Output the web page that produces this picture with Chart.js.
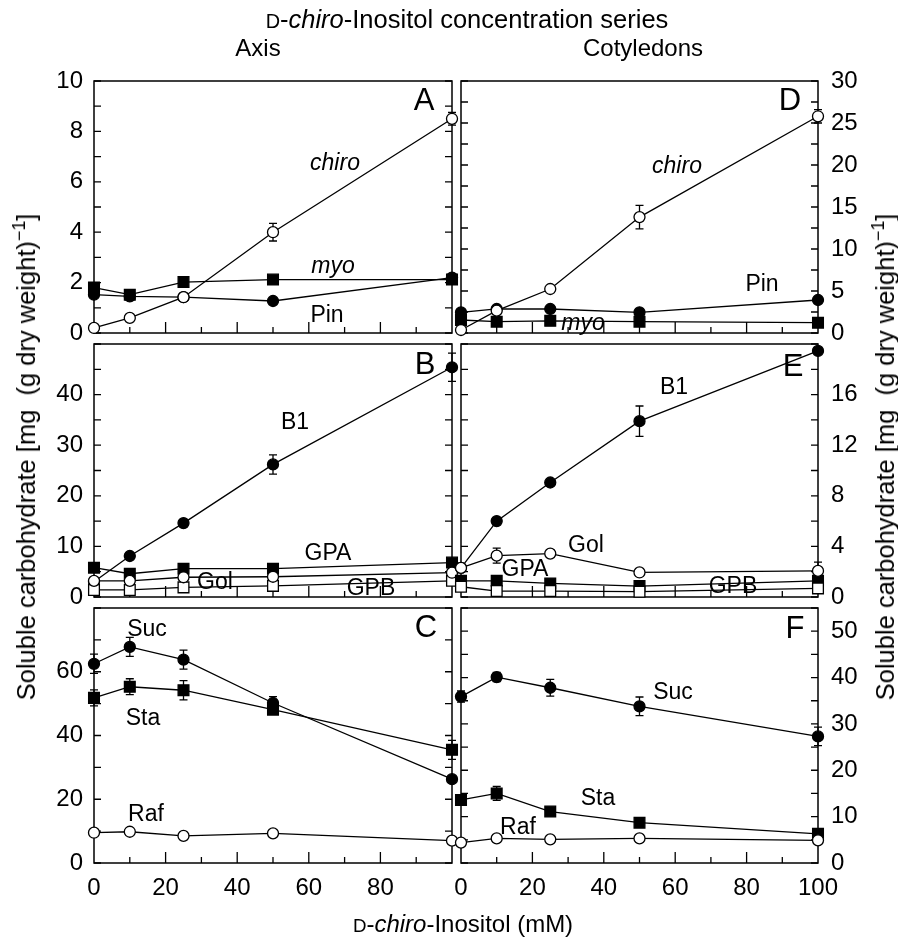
<!DOCTYPE html>
<html>
<head>
<meta charset="utf-8">
<script src="https://cdn.jsdelivr.net/npm/chart.js@4.4.1/dist/chart.umd.min.js"></script>
<style>
  body { margin: 0; background: #fff; }
  #page { position: relative; width: 898px; height: 937px; overflow: hidden;
          font-family: 'Liberation Sans', Arial, Helvetica, sans-serif; color: #000; }
  #page canvas { position: absolute; left: 0; top: 0; }
  .t { position: absolute; white-space: nowrap; transform: translate(-50%, -50%); line-height: 1; }
  .big { font-size: 24px; }
  .lab { font-size: 23px; }
  .letter { font-size: 31px; }
  .sc { font-size: 0.78em; }
  .vt { transform: translate(-50%, -50%) rotate(-90deg); font-size: 25.5px; }
</style>
</head>
<body>
<div id="page">
  <canvas id="panelA" width="898" height="937"></canvas>
  <canvas id="panelB" width="898" height="937"></canvas>
  <canvas id="panelC" width="898" height="937"></canvas>
  <canvas id="panelD" width="898" height="937"></canvas>
  <canvas id="panelE" width="898" height="937"></canvas>
  <canvas id="panelF" width="898" height="937"></canvas>

  <!-- titles -->
  <div class="t big" style="left:467px;top:20px;font-size:25.5px"><span class="sc">D</span>-<i>chiro</i>-Inositol concentration series</div>
  <div class="t big" style="left:258px;top:48px">Axis</div>
  <div class="t big" style="left:643px;top:48px">Cotyledons</div>
  <div class="t big" style="left:463px;top:924px"><span class="sc">D</span>-<i>chiro</i>-Inositol (mM)</div>
  <div class="t vt" style="left:25px;top:457px">Soluble carbohydrate [mg&nbsp; (g dry weight)<sup style="font-size:0.7em">&minus;1</sup>]</div>
  <div class="t vt" style="left:884px;top:457px">Soluble carbohydrate [mg&nbsp; (g dry weight)<sup style="font-size:0.7em">&minus;1</sup>]</div>

  <!-- panel A -->
  <div class="t letter" style="left:424px;top:99px">A</div>
  <div class="t lab" style="left:335px;top:162px"><i>chiro</i></div>
  <div class="t lab" style="left:333px;top:265px"><i>myo</i></div>
  <div class="t lab" style="left:327px;top:314px">Pin</div>
  <!-- panel B -->
  <div class="t letter" style="left:425px;top:363px">B</div>
  <div class="t lab" style="left:295px;top:421px">B1</div>
  <div class="t lab" style="left:328px;top:552px">GPA</div>
  <div class="t lab" style="left:215px;top:581px">Gol</div>
  <div class="t lab" style="left:371px;top:587px">GPB</div>
  <!-- panel C -->
  <div class="t letter" style="left:426px;top:626px">C</div>
  <div class="t lab" style="left:147px;top:628px">Suc</div>
  <div class="t lab" style="left:143px;top:717px">Sta</div>
  <div class="t lab" style="left:146px;top:813px">Raf</div>
  <!-- panel D -->
  <div class="t letter" style="left:790px;top:99px">D</div>
  <div class="t lab" style="left:677px;top:165px"><i>chiro</i></div>
  <div class="t lab" style="left:762px;top:283px">Pin</div>
  <div class="t lab" style="left:583px;top:322px"><i>myo</i></div>
  <!-- panel E -->
  <div class="t letter" style="left:793px;top:365px">E</div>
  <div class="t lab" style="left:674px;top:386px">B1</div>
  <div class="t lab" style="left:586px;top:544px">Gol</div>
  <div class="t lab" style="left:525px;top:568px">GPA</div>
  <div class="t lab" style="left:733px;top:585px">GPB</div>
  <!-- panel F -->
  <div class="t letter" style="left:795px;top:627px">F</div>
  <div class="t lab" style="left:673px;top:691px">Suc</div>
  <div class="t lab" style="left:598px;top:797px">Sta</div>
  <div class="t lab" style="left:518px;top:826px">Raf</div>
</div>

<script>
// x values: D-chiro-inositol concentration (mM)
const conc = [0, 10, 25, 50, 100];

// A – axis, cyclitols
const axisChiro = [0.2, 0.6, 1.42, 4.0, 8.5];
const axisChiroErr = [0, 0, 0, 0.35, 0.25];
const axisMyo = [1.8, 1.52, 2.02, 2.12, 2.12];
const axisPin = [1.52, 1.45, 1.42, 1.27, 2.2];

// B – axis, galactosyl cyclitols
const axisB1 = [3.0, 8.1, 14.6, 26.2, 45.4];
const axisB1Err = [0, 0, 0, 1.9, 2.8];
const axisGPA = [5.8, 4.6, 5.6, 5.6, 6.8];
const axisGol = [3.2, 3.2, 3.9, 4.0, 4.8];
const axisGPB = [1.4, 1.4, 1.9, 2.2, 3.2];

// C – axis, sucrose & RFO
const axisSuc = [62.5, 67.8, 63.8, 50.2, 26.3];
const axisSucErr = [3, 3, 3, 2, 0];
const axisSta = [51.8, 55.3, 54.2, 48.1, 35.5];
const axisStaErr = [2.5, 2.5, 3, 1.5, 3];
const axisRaf = [9.5, 9.8, 8.5, 9.3, 7.0];

// D – cotyledons, cyclitols
const cotChiro = [0.36, 2.66, 5.24, 13.8, 25.8];
const cotChiroErr = [0, 0, 0, 1.4, 0.8];
const cotPin = [2.46, 2.86, 2.86, 2.46, 3.93];
const cotMyo = [1.55, 1.35, 1.45, 1.35, 1.23];

// E – cotyledons, galactosyl cyclitols
const cotB1 = [2.3, 6.0, 9.05, 13.9, 19.45];
const cotB1Err = [0, 0, 0, 1.2, 0];
const cotGol = [2.3, 3.27, 3.43, 1.94, 2.06];
const cotGolErr = [0, 0.6, 0.3, 0, 0.7];
const cotGPA = [1.28, 1.28, 1.07, 0.86, 1.28];
const cotGPB = [0.81, 0.47, 0.47, 0.42, 0.68];

// F – cotyledons, sucrose & RFO
const cotSuc = [35.9, 40.1, 37.8, 33.8, 27.3];
const cotSucErr = [1.2, 1, 1.8, 2, 2];
const cotSta = [13.6, 15.0, 11.1, 8.7, 6.3];
const cotStaErr = [0, 1.5, 0, 0, 0];
const cotRaf = [4.4, 5.3, 5.1, 5.3, 4.9];

Chart.defaults.font.family = "'Liberation Sans', Arial, Helvetica, sans-serif";
Chart.defaults.color = '#000';

// frame, inward ticks and error bars
const frameTicks = {
    id: 'frameTicks',
    beforeDatasetsDraw(chart) {
        const { ctx, chartArea: a, scales } = chart;
        ctx.save();
        ctx.strokeStyle = '#000';
        ctx.lineWidth = 1.5;
        ctx.strokeRect(a.left, a.top, a.right - a.left, a.bottom - a.top);

        ctx.lineWidth = 1.3;
        ctx.beginPath();
        scales.y.ticks.forEach(t => {
            const py = scales.y.getPixelForValue(t.value);
            ctx.moveTo(a.left, py); ctx.lineTo(a.left + 7, py);
            ctx.moveTo(a.right, py); ctx.lineTo(a.right - 7, py);
        });
        scales.x.ticks.forEach(t => {
            if (t.value === 0 || t.value === 100) return;
            const px = scales.x.getPixelForValue(t.value);
            const len = t.value % 20 === 0 ? 11 : 6;
            ctx.moveTo(px, a.bottom); ctx.lineTo(px, a.bottom - len);
        });
        ctx.stroke();

        // error bars
        ctx.beginPath();
        chart.data.datasets.forEach((ds, i) => {
            if (!ds.errors) return;
            const meta = chart.getDatasetMeta(i);
            ds.errors.forEach((e, j) => {
                if (!e) return;
                const px = meta.data[j].x;
                const v = ds.data[j].y;
                const y1 = scales.y.getPixelForValue(v + e);
                const y2 = scales.y.getPixelForValue(v - e);
                ctx.moveTo(px, y1); ctx.lineTo(px, y2);
                ctx.moveTo(px - 4, y1); ctx.lineTo(px + 4, y1);
                ctx.moveTo(px - 4, y2); ctx.lineTo(px + 4, y2);
            });
        });
        ctx.stroke();
        ctx.restore();
    }
};

function series(values, marker, errors) {
    const open = marker === 'openCircle' || marker === 'openSquare';
    const square = marker === 'square' || marker === 'openSquare';
    return {
        data: conc.map((c, i) => ({ x: c, y: values[i] })),
        errors: errors || null,
        borderColor: '#000',
        borderWidth: 1.3,
        pointStyle: square ? 'rect' : 'circle',
        pointRadius: square ? 7.6 : 5.5,
        pointBackgroundColor: open ? '#fff' : '#000',
        pointBorderColor: '#000',
        pointBorderWidth: 1.3,
        tension: 0,
        clip: false
    };
}

// side: 'left' | 'right'; top/bottom: chart area in page pixels
function makePanel(id, side, top, bottom, yMax, yStep, labelStep, labelMax, datasets, xLabels) {
    const left = side === 'left';
    new Chart(document.getElementById(id), {
        type: 'line',
        data: { datasets },
        options: {
            responsive: false,
            animation: false,
            events: [],
            layout: {
                padding: {
                    left: left ? 0 : 461,
                    right: left ? 898 - 452 : 0,
                    top: top,
                    bottom: xLabels ? 0 : 937 - bottom
                }
            },
            plugins: { legend: { display: false }, tooltip: { enabled: false } },
            scales: {
                x: {
                    type: 'linear',
                    min: 0,
                    max: 100,
                    grid: { display: false, drawTicks: false },
                    border: { display: false },
                    ticks: {
                        display: xLabels,
                        stepSize: 10,
                        autoSkip: false,
                        maxRotation: 0,
                        padding: 11,
                        font: { size: 24 },
                        callback: v => (v % 20 === 0 && (v < 100 || !left)) ? v : ''
                    },
                    afterFit: s => { s.height = xLabels ? 937 - bottom : 0; }
                },
                y: {
                    position: side,
                    min: 0,
                    max: yMax,
                    grid: { display: false, drawTicks: false },
                    border: { display: false },
                    ticks: {
                        stepSize: yStep,
                        autoSkip: false,
                        padding: left ? 11 : 13,
                        font: { size: 24 },
                        callback: v => (Math.abs(v % labelStep) < 1e-6 && v <= labelMax) ? v : ''
                    },
                    afterFit: s => { s.width = left ? 94 : 898 - 818; }
                }
            }
        },
        plugins: [frameTicks]
    });
}

makePanel('panelA', 'left', 81, 333, 10, 1, 2, 10, [
    series(axisChiro, 'openCircle', axisChiroErr),
    series(axisPin, 'circle'),
    series(axisMyo, 'square')
], false);

makePanel('panelB', 'left', 344, 597, 50, 5, 10, 40, [
    series(axisGol, 'openCircle'),
    series(axisGPB, 'openSquare'),
    series(axisB1, 'circle', axisB1Err),
    series(axisGPA, 'square')
], false);

makePanel('panelC', 'left', 608, 863, 80, 10, 20, 60, [
    series(axisRaf, 'openCircle'),
    series(axisSuc, 'circle', axisSucErr),
    series(axisSta, 'square', axisStaErr)
], true);

makePanel('panelD', 'right', 81, 333, 30, 2.5, 5, 30, [
    series(cotChiro, 'openCircle', cotChiroErr),
    series(cotPin, 'circle'),
    series(cotMyo, 'square')
], false);

makePanel('panelE', 'right', 344, 597, 20, 2, 4, 16, [
    series(cotGol, 'openCircle', cotGolErr),
    series(cotGPB, 'openSquare'),
    series(cotB1, 'circle', cotB1Err),
    series(cotGPA, 'square')
], false);

makePanel('panelF', 'right', 608, 863, 55, 5, 10, 50, [
    series(cotRaf, 'openCircle'),
    series(cotSuc, 'circle', cotSucErr),
    series(cotSta, 'square', cotStaErr)
], true);
</script>
</body>
</html>
